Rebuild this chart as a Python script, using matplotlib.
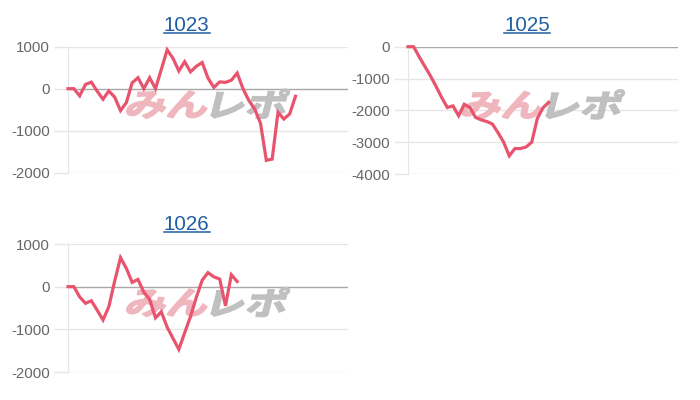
import matplotlib
matplotlib.use("Agg")
import matplotlib.pyplot as plt
from matplotlib.textpath import TextPath
from matplotlib.patches import PathPatch
from matplotlib.font_manager import FontProperties
from matplotlib.transforms import Affine2D, IdentityTransform
from matplotlib.lines import Line2D

plt.rcParams["font.family"] = ["Liberation Sans", "DejaVu Sans"]

# データ
titles = ["1023", "1025", "1026"]

vals_1023 = [0, 0, -170, 100, 155, -60, -250, -55, -200, -520,
             -330, 140, 260, 0, 260, 0, 460, 920, 720, 420,
             640, 400, 530, 620, 250, 30, 160, 150, 200, 370,
             0, -280, -480, -820, -1700, -1670, -560, -720, -600, -180]

vals_1025 = [0, 0, -320, -620, -920, -1250, -1600, -1910, -1860, -2170,
             -1810, -1910, -2220, -2300, -2350, -2430, -2700, -3000, -3430, -3200,
             -3200, -3150, -3000, -2250, -1920, -1750]

vals_1026 = [0, 0, -240, -390, -330, -550, -780, -470, 130, 680,
             430, 100, 170, -130, -300, -730, -590, -950, -1210, -1470,
             -1080, -700, -250, 150, 330, 230, 180, -450, 280, 120]

ticks_a = [-2000, -1000, 0, 1000]
ticks_b = [-4000, -3000, -2000, -1000, 0]

n_slots = 48  # x軸の幅（ラベル数）

line_color = "#e8546e"
grid_color = "#e6e6e6"
zero_color = "#a8a8a8"
tick_color = "#666666"
link_color = "#1f5fa3"

W, H = 700, 400
fig = plt.figure(figsize=(W / 100, H / 100), dpi=100)


def px_axes(left, top, right, bottom):
    # ピクセル（上基準）から figure 座標へ
    return [left / W, 1 - bottom / H, (right - left) / W, (bottom - top) / H]


def watermark(ax):
    # みんレポ ロゴ風の透かし
    fp = FontProperties(family="Noto Sans CJK JP", weight="bold")
    p1 = TextPath((0, 0), "みん", size=40, prop=fp)
    p2 = TextPath((0, 0), "レポ", size=40, prop=fp)
    e1 = p1.get_extents()
    e2 = p2.get_extents()
    tw, th = 158.0, 29.0
    gap = 6.0
    raw_w = e1.width + e2.width
    sx = (tw - gap) / raw_w
    sy = th / max(e1.height, e2.height)
    bb = ax.get_position()
    cx = (bb.x0 + bb.x1) / 2 * W - 4
    cy = (bb.y0 + bb.y1) / 2 * H + 6
    x_start = cx - tw / 2
    y0 = cy - th / 2
    t1 = (Affine2D().translate(-e1.x0, -e1.y0).scale(sx, sy)
          .skew_deg(14, 0).translate(x_start, y0))
    x2 = x_start + e1.width * sx + gap
    t2 = (Affine2D().translate(-e2.x0, -e2.y0).scale(sx, sy)
          .skew_deg(14, 0).translate(x2, y0))
    pp1 = PathPatch(t1.transform_path(p1), facecolor="#f0b6be", edgecolor="#f0b6be",
                    lw=1.2, transform=IdentityTransform(), zorder=1.5, clip_on=False)
    pp2 = PathPatch(t2.transform_path(p2), facecolor="#c0c0c0", edgecolor="#c0c0c0",
                    lw=1.2, transform=IdentityTransform(), zorder=1.5, clip_on=False)
    ax.add_patch(pp1)
    ax.add_patch(pp2)


def draw_chart(rect, values, ticks, title, title_xy, underline_y):
    ax = fig.add_axes(rect)
    ax.plot(range(len(values)), values, color=line_color, lw=2.3,
            solid_joinstyle="miter", zorder=3, clip_on=False)
    ax.set_xlim(0, n_slots)
    ax.set_ylim(ticks[0], ticks[-1])
    ax.set_yticks(ticks)
    ax.set_yticklabels([str(t) for t in ticks])
    ax.set_xticks([])
    for t in ticks:
        c = zero_color if t == 0 else grid_color
        ax.axhline(t, color=c, lw=1, zorder=1)
    ax.tick_params(axis="y", length=10, width=1, color=grid_color, pad=3,
                   labelsize=10.8, labelcolor=tick_color)
    for s in ["top", "right", "bottom"]:
        ax.spines[s].set_visible(False)
    ax.spines["left"].set_color(grid_color)
    watermark(ax)

    # タイトル（リンク風）
    tx, ty = title_xy
    fig.text(tx / W, 1 - ty / H, title, ha="center", va="baseline",
             fontsize=14.8, color=link_color)
    fig.add_artist(Line2D([(tx - 23) / W, (tx + 23) / W],
                          [1 - underline_y / H, 1 - underline_y / H],
                          color=link_color, lw=1.1))
    return ax


draw_chart(px_axes(68, 46.5, 348, 173), vals_1023, ticks_a, titles[0], (186.5, 30.7), 33.3)
draw_chart(px_axes(408, 46.7, 678, 174), vals_1025, ticks_b, titles[1], (527.3, 30.7), 33.3)
draw_chart(px_axes(68, 244, 348, 372), vals_1026, ticks_a, titles[2], (186.5, 229.8), 232.3)

fig.savefig("out.png", dpi=100)
